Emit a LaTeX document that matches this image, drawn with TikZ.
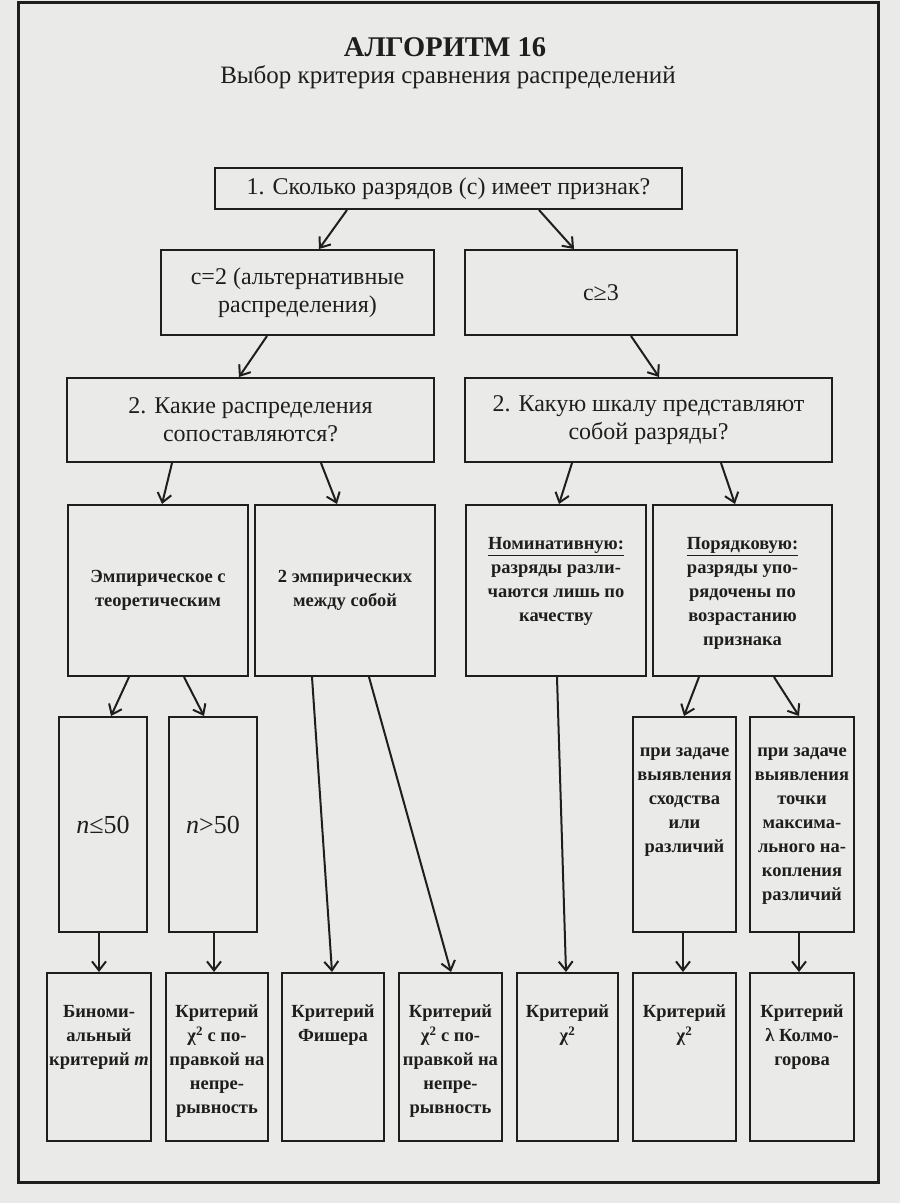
\documentclass[tikz,border=0pt]{standalone}
\usepackage{fontspec}
\setmainfont{Liberation Serif}
\usetikzlibrary{arrows.meta}
\definecolor{ink}{RGB}{30,30,30}
\definecolor{paper}{RGB}{234,234,232}
\begin{document}
\begin{tikzpicture}[x=1pt,y=-1pt,
  bx/.style={draw=ink, line width=2pt, inner sep=0pt},
  txt/.style={text=ink, align=center, inner sep=0pt},
  big/.style={font=\fontsize{24}{28}\selectfont},
  mid/.style={font=\fontsize{18.5}{24}\selectfont\bfseries},
  arr/.style={draw=ink, line width=2pt, -{Straight Barb[length=9pt,width=14pt,line width=2pt]}}]
\useasboundingbox (0,0) rectangle (900,1203);
\fill[paper] (0,0) rectangle (900,1203);
\draw[ink, line width=3pt] (18,2) rectangle (878,1182);

% title
\node[txt, font=\fontsize{28.5}{32}\selectfont\bfseries] (title) at (445,47) {АЛГОРИТМ 16};
\node[txt, font=\fontsize{25}{29}\selectfont] (subtitle) at (448,77) {Выбор критерия сравнения распределений};

% level 1
\node[bx, txt, big, minimum width=467pt, minimum height=41pt] (q1) at (448.5,188.5) {1. Сколько разрядов (с) имеет признак?};
\node[bx, txt, big, minimum width=273pt, minimum height=85pt] (c2) at (297.5,292.5) {с=2 (альтернативные\\распределения)};
\node[bx, txt, big, minimum width=272pt, minimum height=85pt] (c3) at (601,292.5) {с≥3};
\node[bx, txt, big, minimum width=367pt, minimum height=84pt] (q2l) at (250.5,420) {2. Какие распределения\\сопоставляются?};
\node[bx, txt, big, minimum width=367pt, minimum height=84pt] (q2r) at (648.5,420) {2. Какую шкалу представляют\\собой разряды?};

% level 2
\node[bx, txt, mid, minimum width=180pt, minimum height=171pt] (emp) at (158,590.5) {Эмпирическое с\\теоретическим};
\node[bx, txt, mid, minimum width=180pt, minimum height=171pt] (two) at (345,590.5) {2 эмпирических\\между собой};
\node[bx, minimum width=180pt, minimum height=171pt] (nom) at (556,590.5) {};
\node[bx, minimum width=179pt, minimum height=171pt] (ord) at (742.5,590.5) {};
\node[txt, mid, anchor=north] (nomt) at (556,537) {\underline{Номинативную:}\\разряды разли-\\чаются лишь по\\качеству};
\node[txt, mid, anchor=north] (ordt) at (742.5,537) {\underline{Порядковую:}\\разряды упо-\\рядочены по\\возрастанию\\признака};

% level 3
\node[bx, txt, font=\fontsize{26}{30}\selectfont, minimum width=88pt, minimum height=215pt] (n1) at (103,824.5) {\textit{n}≤50};
\node[bx, txt, font=\fontsize{26}{30}\selectfont, minimum width=88pt, minimum height=215pt] (n2) at (213,824.5) {\textit{n}>50};
\node[bx, minimum width=103pt, minimum height=215pt] (sx) at (684.5,824.5) {};
\node[bx, minimum width=104pt, minimum height=215pt] (tk) at (802,824.5) {};
\node[txt, mid, anchor=north] (sxt) at (684.5,748) {при задаче\\выявления\\сходства\\или\\различий};
\node[txt, mid, anchor=north] (tkt) at (802,748) {при задаче\\выявления\\точки\\максима-\\льного на-\\копления\\различий};

% bottom row
\foreach \n/\cx/\w in {b1/99/104, b2/217/102, b3/333/102, b4/450.5/103, b5/567.5/101, b6/684.5/103, b7/802/104}
  \node[bx, minimum width=\w pt, minimum height=168pt] (\n) at (\cx,1057) {};
\node[txt, mid, anchor=north] (b1t) at (99,1005) {Биноми-\\альный\\критерий \textit{m}};
\node[txt, mid, anchor=north] (b2t) at (217,1005) {Критерий\\χ\textsuperscript{2} с по-\\правкой на\\непре-\\рывность};
\node[txt, mid, anchor=north] (b3t) at (333,1005) {Критерий\\Фишера};
\node[txt, mid, anchor=north] (b4t) at (450.5,1005) {Критерий\\χ\textsuperscript{2} с по-\\правкой на\\непре-\\рывность};
\node[txt, mid, anchor=north] (b5t) at (567.5,1005) {Критерий\\χ\textsuperscript{2}};
\node[txt, mid, anchor=north] (b6t) at (684.5,1005) {Критерий\\χ\textsuperscript{2}};
\node[txt, mid, anchor=north] (b7t) at (802,1005) {Критерий\\λ Колмо-\\горова};

% connectors
\draw[arr] ([xshift=133pt]q1.south west) -- ([xshift=159pt]c2.north west);
\draw[arr] ([xshift=325pt]q1.south west) -- ([xshift=110pt]c3.north west);
\draw[arr] ([xshift=107pt]c2.south west) -- ([xshift=173pt]q2l.north west);
\draw[arr] ([xshift=167pt]c3.south west) -- ([xshift=195pt]q2r.north west);
\draw[arr] ([xshift=106pt]q2l.south west) -- ([xshift=95pt]emp.north west);
\draw[arr] ([xshift=255pt]q2l.south west) -- ([xshift=83pt]two.north west);
\draw[arr] ([xshift=108pt]q2r.south west) -- ([xshift=94pt]nom.north west);
\draw[arr] ([xshift=257pt]q2r.south west) -- ([xshift=83pt]ord.north west);
\draw[arr] ([xshift=62pt]emp.south west) -- ([xshift=53pt]n1.north west);
\draw[arr] ([xshift=117pt]emp.south west) -- ([xshift=36pt]n2.north west);
\draw[arr] ([xshift=58pt]two.south west) -- ([xshift=51pt]b3.north west);
\draw[arr] ([xshift=115pt]two.south west) -- ([xshift=53pt]b4.north west);
\draw[arr] ([xshift=92pt]nom.south west) -- ([xshift=50pt]b5.north west);
\draw[arr] ([xshift=47pt]ord.south west) -- ([xshift=52pt]sx.north west);
\draw[arr] ([xshift=122pt]ord.south west) -- ([xshift=50pt]tk.north west);
\draw[arr] ([xshift=41pt]n1.south west) -- ([xshift=53pt]b1.north west);
\draw[arr] ([xshift=46pt]n2.south west) -- ([xshift=49pt]b2.north west);
\draw[arr] ([xshift=51pt]sx.south west) -- ([xshift=51pt]b6.north west);
\draw[arr] ([xshift=50pt]tk.south west) -- ([xshift=50pt]b7.north west);
\end{tikzpicture}
\end{document}
